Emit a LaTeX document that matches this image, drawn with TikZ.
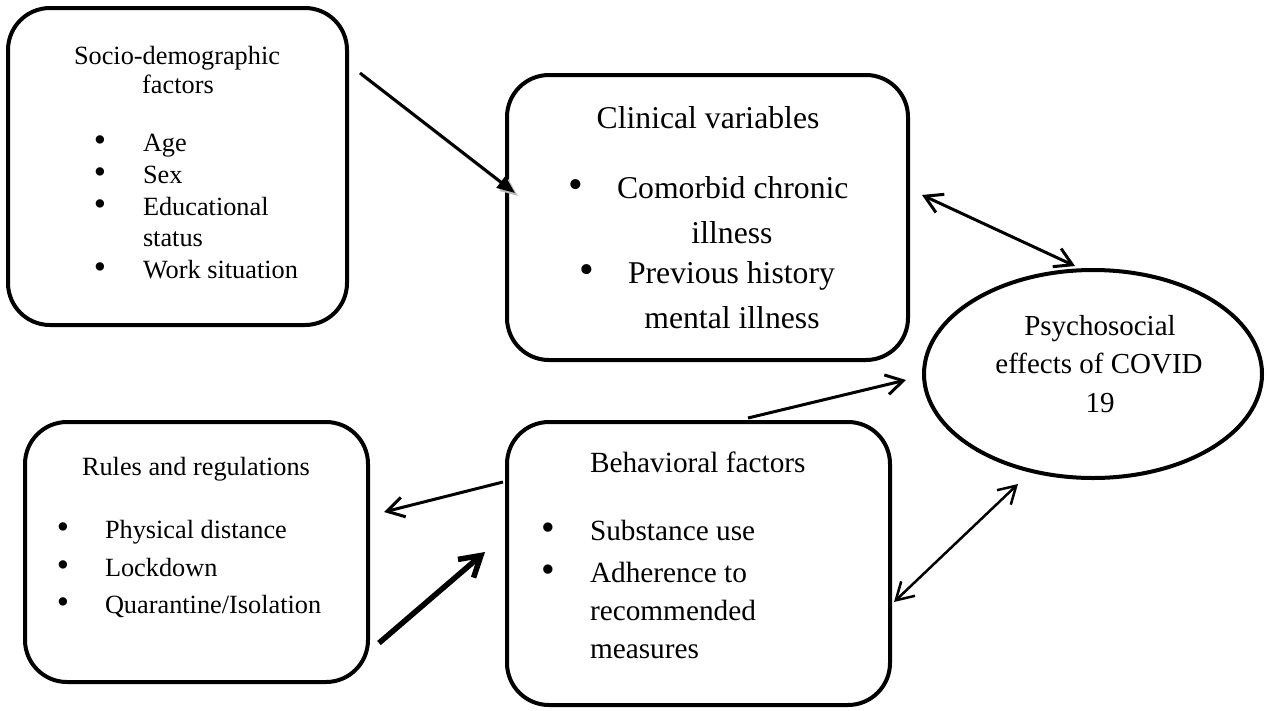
\documentclass[tikz,border=0pt]{standalone}
\usepackage{fontspec}
\setmainfont{Liberation Serif}
\usetikzlibrary{arrows.meta,shapes.geometric}
\newcommand\fsSocio{\fontsize{26.3}{30}\selectfont}
\newcommand\fsClin{\fontsize{31.7}{36}\selectfont}
\newcommand\fsBeh{\fontsize{29.3}{34}\selectfont}
\newcommand\fsEll{\fontsize{29}{34}\selectfont}
\newcommand\bulS{\fontsize{35}{36}\selectfont •}
\newcommand\bulC{\fontsize{42}{44}\selectfont •}
\newcommand\bulB{\fontsize{39}{40}\selectfont •}
\tikzset{
  box/.style={draw, line width=4pt, rounded corners=42pt, inner sep=0pt},
  txt/.style={inner sep=0pt, outer sep=0pt, anchor=base},
  txtw/.style={inner sep=0pt, outer sep=0pt, anchor=base west},
  conn/.style={line width=3pt},
  barb/.style={-{Straight Barb[length=17pt,width=20pt]}},
  dbarb/.style={{Straight Barb[length=17pt,width=20pt]}-{Straight Barb[length=17pt,width=20pt]}},
}
\begin{document}
\begin{tikzpicture}[x=1pt,y=-1pt]
\useasboundingbox (0,0) rectangle (1267,710);
% boxes
\node[box, minimum width=339pt, minimum height=317pt] (socio) at (177.5,166.5) {};
\node[box, minimum width=401pt, minimum height=285pt] (clin) at (707.5,217.5) {};
\node[box, minimum width=343pt, minimum height=260pt] (rules) at (196.5,552) {};
\node[box, minimum width=383pt, minimum height=283pt] (behav) at (698.5,563.5) {};
\node[draw, ellipse, line width=4pt, inner sep=0pt, minimum width=338pt, minimum height=208pt] (ell) at (1093,374) {};
% socio text
\node[txt] (s1) at (177,64) {\fsSocio Socio-demographic};
\node[txt] (s2) at (178,93) {\fsSocio factors};
\node[txt] (sb1) at (100,151) {\bulS};
\node[txtw] (s3) at (143,151) {\fsSocio Age};
\node[txt] (sb2) at (100,183) {\bulS};
\node[txtw] (s4) at (143,183) {\fsSocio Sex};
\node[txt] (sb3) at (100,215) {\bulS};
\node[txtw] (s5) at (143,215) {\fsSocio Educational};
\node[txtw] (s6) at (143,246) {\fsSocio status};
\node[txt] (sb4) at (100,278) {\bulS};
\node[txtw] (s7) at (143,278) {\fsSocio Work situation};
% clinical text
\node[txt] (c1) at (708,128) {\fsClin Clinical variables};
\node[txt] (cb1) at (576,198) {\bulC};
\node[txtw] (c2) at (617,198) {\fsClin Comorbid chronic};
\node[txt] (c3) at (732,243) {\fsClin illness};
\node[txt] (cb2) at (587,283) {\bulC};
\node[txtw] (c4) at (628,283) {\fsClin Previous history};
\node[txt] (c5) at (732,328) {\fsClin mental illness};
% rules text
\node[txt] (r1) at (196,475) {\fsSocio Rules and regulations};
\node[txt] (rb1) at (63,538) {\bulS};
\node[txtw] (r2) at (105,538) {\fsSocio Physical distance};
\node[txt] (rb2) at (63,576) {\bulS};
\node[txtw] (r3) at (105,576) {\fsSocio Lockdown};
\node[txt] (rb3) at (63,613) {\bulS};
\node[txtw] (r4) at (105,613) {\fsSocio Quarantine/Isolation};
% behavioral text
\node[txtw] (b1) at (590,472) {\fsBeh Behavioral factors};
\node[txt] (bb1) at (548,540) {\bulB};
\node[txtw] (b2) at (590,540) {\fsBeh Substance use};
\node[txt] (bb2) at (548,582) {\bulB};
\node[txtw] (b3) at (590,582) {\fsBeh Adherence to};
\node[txtw] (b4) at (590,620) {\fsBeh recommended};
\node[txtw] (b5) at (590,658) {\fsBeh measures};
% ellipse text
\node[txt] (e1) at (1100,335) {\fsEll Psychosocial};
\node[txt] (e2) at (1099,373) {\fsEll effects of COVID};
\node[txt] (e3) at (1100,412) {\fsEll 19};
% connectors
\draw[conn, gray!55, -{Triangle[length=18pt,width=14pt]}] ([shift={(13,69)}]socio.north east) -- ([shift={(13,-21.5)}]clin.west);
\draw[conn, -{Triangle[length=18pt,width=14pt]}] ([shift={(11,67)}]socio.north east) -- ([shift={(10,-24.5)}]clin.west);
\draw[conn, dbarb] ([shift={(12,-22.5)}]clin.east) -- ([shift={(-18,-2)}]ell.north);
\draw[conn, barb] ([shift={(-2,-81.5)}]behav.west) -- ([shift={(14,-40)}]rules.east);
\draw[line width=5.5pt, -{Straight Barb[length=20pt,width=24pt]}] ([shift={(9,91)}]rules.east) -- ([shift={(-20,-11.5)}]behav.west);
\draw[conn, barb] ([shift={(49.5,-2)}]behav.north) -- ([shift={(-16,6)}]ell.west);
\draw[line width=2.5pt, dbarb] ([shift={(-75,4)}]ell.south) -- ([shift={(2,38.5)}]behav.east);
\end{tikzpicture}
\end{document}
